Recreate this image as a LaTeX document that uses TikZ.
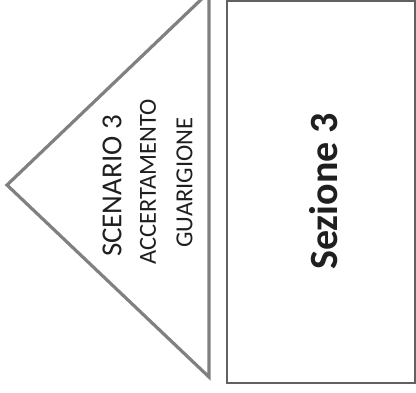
\documentclass[tikz,border=0pt]{standalone}
\usepackage{fontspec}
\setmainfont{Carlito}
\begin{document}
\begin{tikzpicture}[x=1pt,y=-1pt,
  tri/.style={draw=black!50, line width=3.2pt, line join=miter, fill=white},
  secbox/.style={draw=black!62, line width=2pt, fill=white},
  lbl/.style={rotate=90, text=black!88, inner sep=0pt, align=center}]
\useasboundingbox (0,0) rectangle (416,392);
\begin{scope}
\clip (0,0) rectangle (416,392);
\coordinate (apex) at (7,185);
\coordinate (top) at (209,-8);
\coordinate (bot) at (209,377);
\draw[tri] (apex) -- (top) -- (bot) -- cycle;
\draw[secbox] (227,1) rectangle (415,383);
\end{scope}
\node[lbl, font=\fontsize{29}{30}\selectfont] (sc) at (112,186) {SCENARIO 3};
\node[lbl, font=\fontsize{24.5}{26}\selectfont] (ac) at (148,182) {ACCERTAMENTO};
\node[lbl, font=\fontsize{24.5}{26}\selectfont] (gu) at (184.5,182.5) {GUARIGIONE};
\node[lbl, font=\bfseries\fontsize{40}{42}\selectfont] (sez) at (324,191.5) {Sezione 3};
\end{tikzpicture}
\end{document}
